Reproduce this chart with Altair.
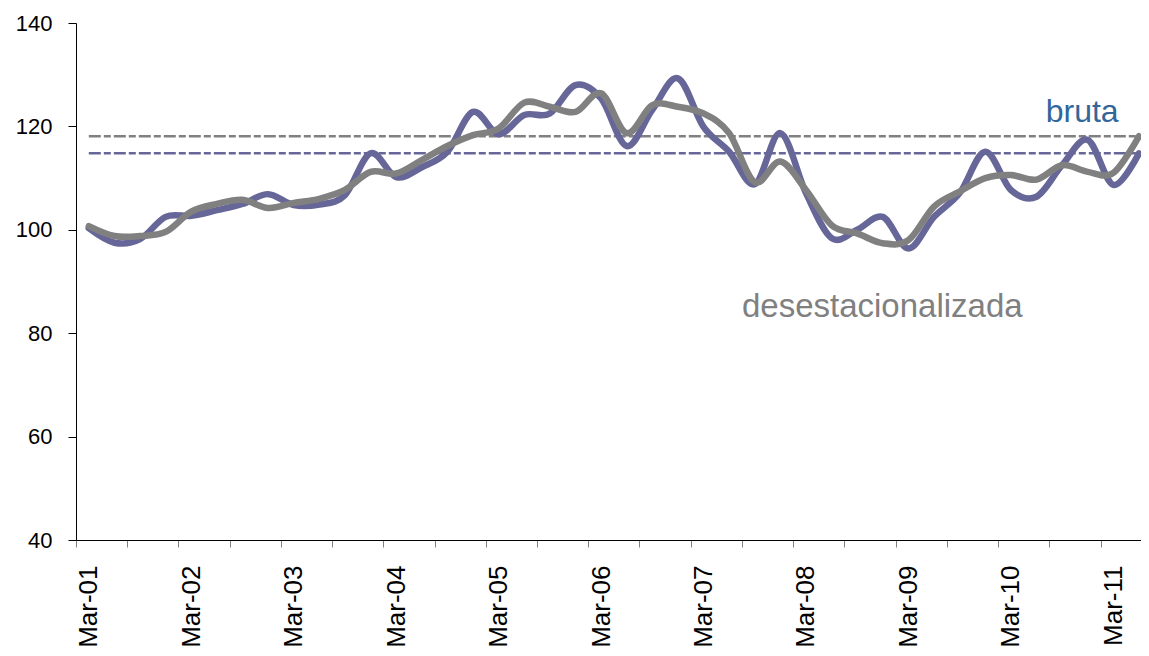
import altair as alt
import pandas as pd

# Quarterly index, Mar-01 .. Jun-11
bruta = [100.3, 97.5, 98.2, 102.5, 102.7, 103.8, 105.0, 106.9, 104.8, 104.9,
         106.7, 114.8, 110.2, 112.1, 115.1, 122.8, 118.5, 122.2, 122.5, 128.0,
         125.4, 116.2, 123.2, 129.3, 119.9, 115.1, 108.8, 118.7, 107.1, 98.4,
         100.0, 102.5, 96.4, 102.5, 107.1, 115.1, 107.7, 106.4, 112.5, 117.4,
         108.7, 114.8]
desest = [100.7, 98.8, 98.8, 99.6, 103.5, 105.0, 105.8, 104.2, 105.2, 106.0,
          107.7, 111.2, 110.9, 113.5, 116.2, 118.3, 119.6, 124.6, 123.8, 122.8,
          126.4, 118.7, 124.1, 123.8, 122.5, 118.7, 109.2, 113.2, 107.7, 100.9,
          99.3, 97.4, 98.0, 104.5, 107.4, 110.0, 110.6, 109.7, 112.5, 111.2,
          111.0, 118.1]
year_labels = ["Mar-01", "Mar-02", "Mar-03", "Mar-04", "Mar-05", "Mar-06",
               "Mar-07", "Mar-08", "Mar-09", "Mar-10", "Mar-11"]
nivel_bruta = 114.8
nivel_desest = 118.1

BLUE = "#666699"
GRAY = "#808080"
FONT = "Liberation Sans"

n = len(bruta)
df = pd.DataFrame({"idx": list(range(n)), "bruta": bruta, "desest": desest})
df_lvl = pd.DataFrame({"x0": [0, 0], "x1": [n - 1, n - 1],
                       "y": [nivel_bruta, nivel_desest], "serie": ["bruta", "desest"]})
df_txt = pd.DataFrame({"x": [37.36, 25.5], "y": [120.8, 83.2],
                       "t": ["bruta", "desestacionalizada"], "serie": ["bruta", "desest"]})

W, H = 1065, 517
x_dom = [-0.5, 41.08]
step = W / (x_dom[1] - x_dom[0])
xscale = alt.Scale(domain=x_dom, nice=False, zero=False)
yscale = alt.Scale(domain=[40, 140], nice=False, zero=False)

arr = "[" + ",".join("'%s'" % s for s in year_labels) + "]"
xaxis = alt.Axis(
    values=[i - 0.5 for i in range(n)],
    labelExpr="(datum.value + 0.5) % 4 == 0 ? " + arr + "[(datum.value + 0.5) / 4] : ''",
    labelAngle=-90, labelFontSize=26, labelFont=FONT, labelColor="black",
    labelOffset=step / 2, labelPadding=18, labelOverlap=False, labelFlush=False,
    tickSize=7, tickColor="#808080", tickWidth=1,
    domainColor="black", domainWidth=1, grid=False, title=None,
)
yaxis = alt.Axis(
    values=[40, 60, 80, 100, 120, 140], labelFontSize=22, labelFont=FONT,
    labelColor="black", labelPadding=16, tickSize=8, tickColor="black",
    domainColor="black", domainWidth=1, grid=False, title=None,
)

colscale = alt.Scale(domain=["bruta", "desest"], range=[BLUE, GRAY])

levels = alt.Chart(df_lvl).mark_rule(strokeWidth=2.5, strokeDash=[12, 3, 7, 3]).encode(
    x=alt.X("x0:Q", scale=xscale, axis=xaxis),
    x2="x1:Q",
    y=alt.Y("y:Q", scale=yscale, axis=yaxis),
    color=alt.Color("serie:N", scale=colscale, legend=None),
)

line_b = alt.Chart(df).mark_line(color=BLUE, strokeWidth=6.5, interpolate="cardinal",
                                 strokeCap="round", strokeJoin="round").encode(
    x=alt.X("idx:Q", scale=xscale),
    y=alt.Y("bruta:Q", scale=yscale),
)
line_d = alt.Chart(df).mark_line(color=GRAY, strokeWidth=6.5, interpolate="cardinal",
                                 strokeCap="round", strokeJoin="round").encode(
    x=alt.X("idx:Q", scale=xscale),
    y=alt.Y("desest:Q", scale=yscale),
)

txt_b = alt.Chart(df_txt[df_txt.serie == "bruta"]).mark_text(
    align="left", baseline="alphabetic", fontSize=32, font=FONT, color="#336699"
).encode(x=alt.X("x:Q", scale=xscale), y=alt.Y("y:Q", scale=yscale), text="t:N")
txt_d = alt.Chart(df_txt[df_txt.serie == "desest"]).mark_text(
    align="left", baseline="alphabetic", fontSize=33, font=FONT, color=GRAY
).encode(x=alt.X("x:Q", scale=xscale), y=alt.Y("y:Q", scale=yscale), text="t:N")

chart = alt.layer(levels, line_b, line_d, txt_b, txt_d).properties(
    width=W, height=H,
    autosize=alt.AutoSizeParams(type="none"),
    padding={"left": 68, "top": 15, "right": 0, "bottom": 108},
    background="white",
).configure_view(stroke=None)

chart.save("out.html", embed_options={"renderer": "svg", "actions": False})
